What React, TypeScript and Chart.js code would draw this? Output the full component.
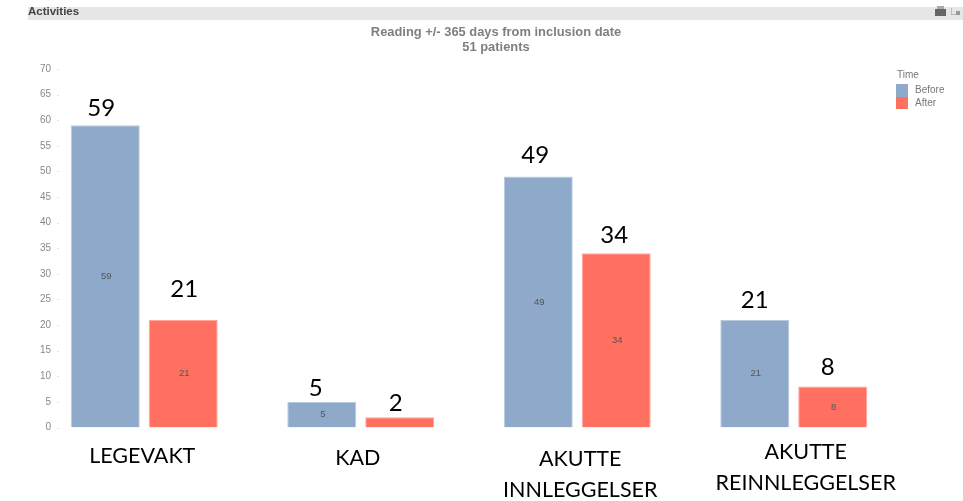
import React, { useEffect, useRef } from "react";
import { Chart, registerables } from "chart.js";

Chart.register(...registerables);

const categories = ["LEGEVAKT", "KAD", "AKUTTE INNLEGGELSER", "AKUTTE REINNLEGGELSER"];
const categoryLines = [["LEGEVAKT"], ["KAD"], ["AKUTTE", "INNLEGGELSER"], ["AKUTTE", "REINNLEGGELSER"]];
const before = [59, 5, 49, 21];
const after = [21, 2, 34, 8];
const titleLines = ["Reading +/- 365 days from inclusion date", "51 patients"];
const headerText = "Activities";
const legendTitle = "Time";

const BLUE = "#8EA9C9";
const RED = "#FF7060";

// Annotation placement relative to each bar top / group centre
const calloutGapBefore = [17, 14, 21, 20];
const calloutGapAfter = [31, 14, 18, 19];
const calloutDxBefore = [-4, -6, -3, -0];
const calloutDxAfter = [1, -4, -2, -5];
const catDx = [-2, -3, 3, 12];
const catY = [456, 458, 459, 452];

const overlay = {
  id: "overlay",
  beforeDatasetsDraw(chart: any) {
    const { ctx } = chart;
    ctx.save();
    // header band
    ctx.fillStyle = "#E6E6E6";
    ctx.fillRect(28, 7, 935, 13);
    ctx.save();
    ctx.beginPath();
    ctx.rect(28, 6, 935, 14);
    ctx.clip();
    ctx.fillStyle = "#444";
    ctx.font = "bold 11.5px 'Liberation Sans'";
    ctx.textAlign = "left";
    ctx.textBaseline = "middle";
    ctx.fillText(headerText, 28, 12);
    ctx.restore();
    ctx.textBaseline = "middle";
    // header icons
    ctx.fillStyle = "#666";
    ctx.fillRect(935, 9, 11, 7);
    ctx.fillStyle = "#AAA";
    ctx.fillRect(937, 6, 7, 3);
    ctx.fillStyle = "#BBB";
    ctx.fillRect(951, 8, 1, 7);
    ctx.fillRect(951, 14, 5, 1);
    ctx.fillStyle = "#999";
    ctx.fillRect(956, 11, 4, 4);
    // title
    ctx.fillStyle = "#7F7F7F";
    ctx.font = "bold 12.9px 'Liberation Sans'";
    ctx.textAlign = "center";
    titleLines.forEach((l, i) => ctx.fillText(l, 496, 32 + i * 15.5));
    // legend
    ctx.font = "10px 'Liberation Sans'";
    ctx.textAlign = "left";
    ctx.fillStyle = "#777";
    ctx.fillText(legendTitle, 897, 75);
    ctx.fillStyle = BLUE;
    ctx.fillRect(896, 84, 12, 13);
    ctx.fillStyle = RED;
    ctx.fillRect(896, 97, 12, 12);
    ctx.fillStyle = "#777";
    ctx.fillText(chart.data.datasets[0].label, 915, 90);
    ctx.fillText(chart.data.datasets[1].label, 915, 103);
    // y tick marks
    const y = chart.scales.y;
    ctx.fillStyle = "#E2E2E2";
    y.ticks.forEach((t: any) => ctx.fillRect(57, Math.round(y.getPixelForValue(t.value)), 2, 1));
    ctx.restore();
  },
  afterDatasetsDraw(chart: any) {
    const { ctx } = chart;
    ctx.save();
    ctx.textAlign = "center";
    ctx.textBaseline = "middle";
    chart.data.datasets.forEach((ds: any, di: number) => {
      const gaps = di === 0 ? calloutGapBefore : calloutGapAfter;
      const dxs = di === 0 ? calloutDxBefore : calloutDxAfter;
      chart.getDatasetMeta(di).data.forEach((bar: any, i: number) => {
        // value inside the bar
        ctx.fillStyle = "#555";
        ctx.font = "9.5px 'Liberation Sans'";
        if (ds.data[i] > 2) ctx.fillText(String(ds.data[i]), bar.x + 1, (bar.y + bar.base) / 2);
        // large callout above the bar
        ctx.fillStyle = "#000";
        ctx.font = "24px Lato";
        ctx.fillText(String(ds.data[i]), bar.x + dxs[i], bar.y - gaps[i]);
      });
    });
    // category captions
    ctx.fillStyle = "#000";
    ctx.font = "21.5px Lato";
    const x = chart.scales.x;
    categoryLines.forEach((lines, i) => {
      lines.forEach((l, j) => ctx.fillText(l, x.getPixelForValue(i) + catDx[i], catY[i] + j * 31));
    });
    ctx.restore();
  },
};

export default function App() {
  const ref = useRef<HTMLCanvasElement | null>(null);
  useEffect(() => {
    const chart = new Chart(ref.current as HTMLCanvasElement, {
      type: "bar",
      data: {
        labels: categories,
        datasets: [
          { label: "Before", data: before, backgroundColor: BLUE, borderColor: "#B9CADD", borderWidth: 1 },
          { label: "After", data: after, backgroundColor: RED, borderColor: "#FFA69B", borderWidth: 1 },
        ],
      },
      options: {
        responsive: false,
        animation: false,
        layout: { padding: { left: 36, right: 61, top: 69, bottom: 73.5 } },
        datasets: { bar: { categoryPercentage: 0.72, barPercentage: 0.885 } },
        plugins: { legend: { display: false }, title: { display: false }, tooltip: { enabled: false } },
        scales: {
          x: { display: false },
          y: {
            min: 0,
            max: 70,
            afterFit(s: any) { s.width = 0; },
            border: { display: false },
            grid: { display: false, drawTicks: false },
            ticks: {
              stepSize: 5,
              mirror: true,
              crossAlign: "far",
              padding: 4,
              color: "#888",
              font: { family: "'Liberation Sans'", size: 10 },
            },
          },
        },
      },
      plugins: [overlay],
    } as any);
    return () => chart.destroy();
  }, []);
  return (
    <canvas
      ref={ref}
      width={963}
      height={501}
      style={{ position: "absolute", left: 0, top: 0, display: "block" }}
    />
  );
}
